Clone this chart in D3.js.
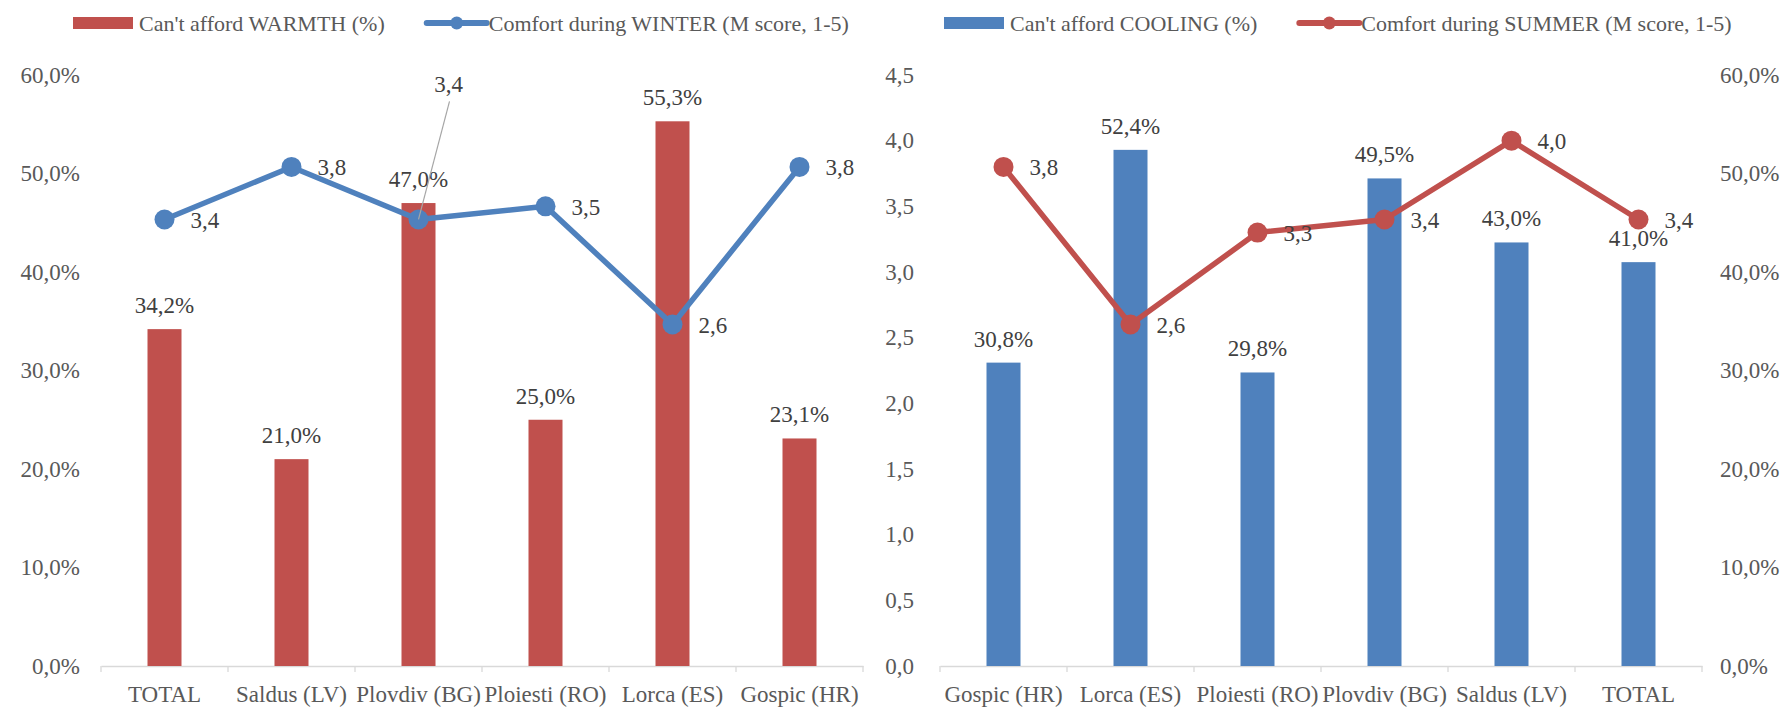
<!DOCTYPE html>
<html>
<head>
<meta charset="utf-8">
<script src="https://cdn.jsdelivr.net/npm/d3@7/dist/d3.min.js"></script>
<style>
  html, body { margin: 0; padding: 0; background: #ffffff; }
  svg { display: block; }
  text { font-family: "Liberation Serif", "Times New Roman", serif; }
</style>
</head>
<body>
<svg id="chart" width="1791" height="707"></svg>
<script>
// Winter panel
const winterCategories = ["TOTAL", "Saldus (LV)", "Plovdiv (BG)", "Ploiesti (RO)", "Lorca (ES)", "Gospic (HR)"];
const cantAffordWarmth = [34.2, 21.0, 47.0, 25.0, 55.3, 23.1];
const comfortWinter = [3.4, 3.8, 3.4, 3.5, 2.6, 3.8];

// Summer panel
const summerCategories = ["Gospic (HR)", "Lorca (ES)", "Ploiesti (RO)", "Plovdiv (BG)", "Saldus (LV)", "TOTAL"];
const cantAffordCooling = [30.8, 52.4, 29.8, 49.5, 43.0, 41.0];
const comfortSummer = [3.8, 2.6, 3.3, 3.4, 4.0, 3.4];

// Axis ticks
const percentTicks = [0, 10, 20, 30, 40, 50, 60];
const scoreTicks = [0, 0.5, 1.0, 1.5, 2.0, 2.5, 3.0, 3.5, 4.0, 4.5];

const RED = "#C0504D";
const BLUE = "#4F81BD";
const AXIS_GREY = "#d9d9d9";
const TICK_TEXT = "#595959";
const LABEL_TEXT = "#404040";
const FS = 23;

const locale = d3.formatLocale({ decimal: ",", thousands: ".", grouping: [3], currency: ["", "€"] });
const fmt1 = locale.format(".1f");
const fmtPct = v => fmt1(v) + "%";

const svg = d3.select("#chart");

const plotTop = 75, plotBottom = 666;
const pctY = d3.scaleLinear().domain([0, 60]).range([plotBottom, plotTop]);
const scoreY = d3.scaleLinear().domain([0, 4.5]).range([plotBottom, plotTop]);

function drawPanel(opts) {
  const g = svg.append("g");
  const x = d3.scaleBand().domain(opts.categories).range(opts.xRange).padding(0);
  const cx = c => x(c) + x.bandwidth() / 2;
  const barW = 34;

  // category axis
  const xAxis = g.append("g").attr("transform", `translate(0,${plotBottom})`)
    .call(d3.axisBottom(x).tickSize(0).tickPadding(20));
  xAxis.select(".domain").attr("stroke", AXIS_GREY).attr("stroke-width", 1.3);
  xAxis.selectAll("text").attr("fill", TICK_TEXT).attr("font-size", FS)
    .attr("font-family", "Liberation Serif");
  // boundary tick marks
  const bounds = opts.categories.map(c => x(c)).concat([opts.xRange[1]]);
  g.selectAll(".bt").data(bounds).join("line")
    .attr("x1", d => d).attr("x2", d => d)
    .attr("y1", plotBottom).attr("y2", plotBottom + 6)
    .attr("stroke", AXIS_GREY).attr("stroke-width", 1.3);

  // bars
  g.selectAll(".bar").data(opts.bars).join("rect")
    .attr("x", (d, i) => cx(opts.categories[i]) - barW / 2)
    .attr("width", barW)
    .attr("y", d => pctY(d))
    .attr("height", d => plotBottom - pctY(d))
    .attr("fill", opts.barColor);

  // bar labels
  g.selectAll(".barLabel").data(opts.bars).join("text")
    .attr("x", (d, i) => cx(opts.categories[i]))
    .attr("y", d => pctY(d) - 16)
    .attr("text-anchor", "middle")
    .attr("font-size", FS)
    .attr("fill", LABEL_TEXT)
    .text(d => fmtPct(d));

  // line
  const line = d3.line().x((d, i) => cx(opts.categories[i])).y(d => scoreY(d));
  g.append("path").datum(opts.line)
    .attr("d", line)
    .attr("fill", "none")
    .attr("stroke", opts.lineColor)
    .attr("stroke-width", 5.5)
    .attr("stroke-linejoin", "round");
  g.selectAll(".dot").data(opts.line).join("circle")
    .attr("cx", (d, i) => cx(opts.categories[i]))
    .attr("cy", d => scoreY(d))
    .attr("r", 10)
    .attr("fill", opts.lineColor);

  // line labels
  opts.line.forEach((d, i) => {
    const px = cx(opts.categories[i]), py = scoreY(d);
    const off = (opts.labelOffsets && opts.labelOffsets[i]) || null;
    if (off) {
      g.append("line")
        .attr("x1", px).attr("y1", py)
        .attr("x2", px + off.lx).attr("y2", py + off.ly)
        .attr("stroke", "#a6a6a6").attr("stroke-width", 1.2);
      g.append("text")
        .attr("x", px + off.dx).attr("y", py + off.dy)
        .attr("text-anchor", "middle")
        .attr("dominant-baseline", "central")
        .attr("font-size", FS).attr("fill", LABEL_TEXT)
        .text(fmt1(d));
    } else {
      g.append("text")
        .attr("x", px + 26).attr("y", py + 1)
        .attr("dominant-baseline", "central")
        .attr("font-size", FS).attr("fill", LABEL_TEXT)
        .text(fmt1(d));
    }
  });

  return g;
}

// left panel: percentage axis on the left
drawPanel({
  categories: winterCategories,
  xRange: [101, 863],
  bars: cantAffordWarmth,
  barColor: RED,
  line: comfortWinter,
  lineColor: BLUE,
  labelOffsets: { 2: { dx: 30, dy: -135, lx: 31, ly: -118 } }
});
svg.append("g").selectAll("text").data(percentTicks).join("text")
  .attr("x", 80).attr("y", d => pctY(d))
  .attr("text-anchor", "end").attr("dominant-baseline", "central")
  .attr("font-size", FS).attr("fill", TICK_TEXT)
  .text(d => fmtPct(d));

// right panel: score axis on the left, percentage on the right
drawPanel({
  categories: summerCategories,
  xRange: [940, 1702],
  bars: cantAffordCooling,
  barColor: BLUE,
  line: comfortSummer,
  lineColor: RED
});
svg.append("g").selectAll("text").data(scoreTicks).join("text")
  .attr("x", 914).attr("y", d => scoreY(d))
  .attr("text-anchor", "end").attr("dominant-baseline", "central")
  .attr("font-size", FS).attr("fill", TICK_TEXT)
  .text(d => fmt1(d));
svg.append("g").selectAll("text").data(percentTicks).join("text")
  .attr("x", 1720).attr("y", d => pctY(d))
  .attr("text-anchor", "start").attr("dominant-baseline", "central")
  .attr("font-size", FS).attr("fill", TICK_TEXT)
  .text(d => fmtPct(d));

// legends
function legend(x0, barColor, barText, lineColor, lineText) {
  const g = svg.append("g").attr("transform", `translate(${x0},23)`);
  g.append("rect").attr("x", 0).attr("y", -6).attr("width", 60).attr("height", 12).attr("fill", barColor);
  const t1 = g.append("text").attr("x", 66).attr("y", 0).attr("dominant-baseline", "central")
    .attr("font-size", 22).attr("fill", TICK_TEXT).text(barText);
  const w1 = t1.node().getComputedTextLength();
  const lx = 66 + w1 + 42;
  g.append("line").attr("x1", lx).attr("x2", lx + 60).attr("y1", 0).attr("y2", 0)
    .attr("stroke", lineColor).attr("stroke-width", 6).attr("stroke-linecap", "round");
  g.append("circle").attr("cx", lx + 30).attr("cy", 0).attr("r", 6.5).attr("fill", lineColor);
  g.append("text").attr("x", lx + 62).attr("y", 0).attr("dominant-baseline", "central")
    .attr("font-size", 22).attr("fill", TICK_TEXT).text(lineText);
}
legend(73, RED, "Can't afford WARMTH (%)", BLUE, "Comfort during WINTER (M score, 1-5)");
legend(944, BLUE, "Can't afford COOLING (%)", RED, "Comfort during SUMMER (M score, 1-5)");
</script>
</body>
</html>
